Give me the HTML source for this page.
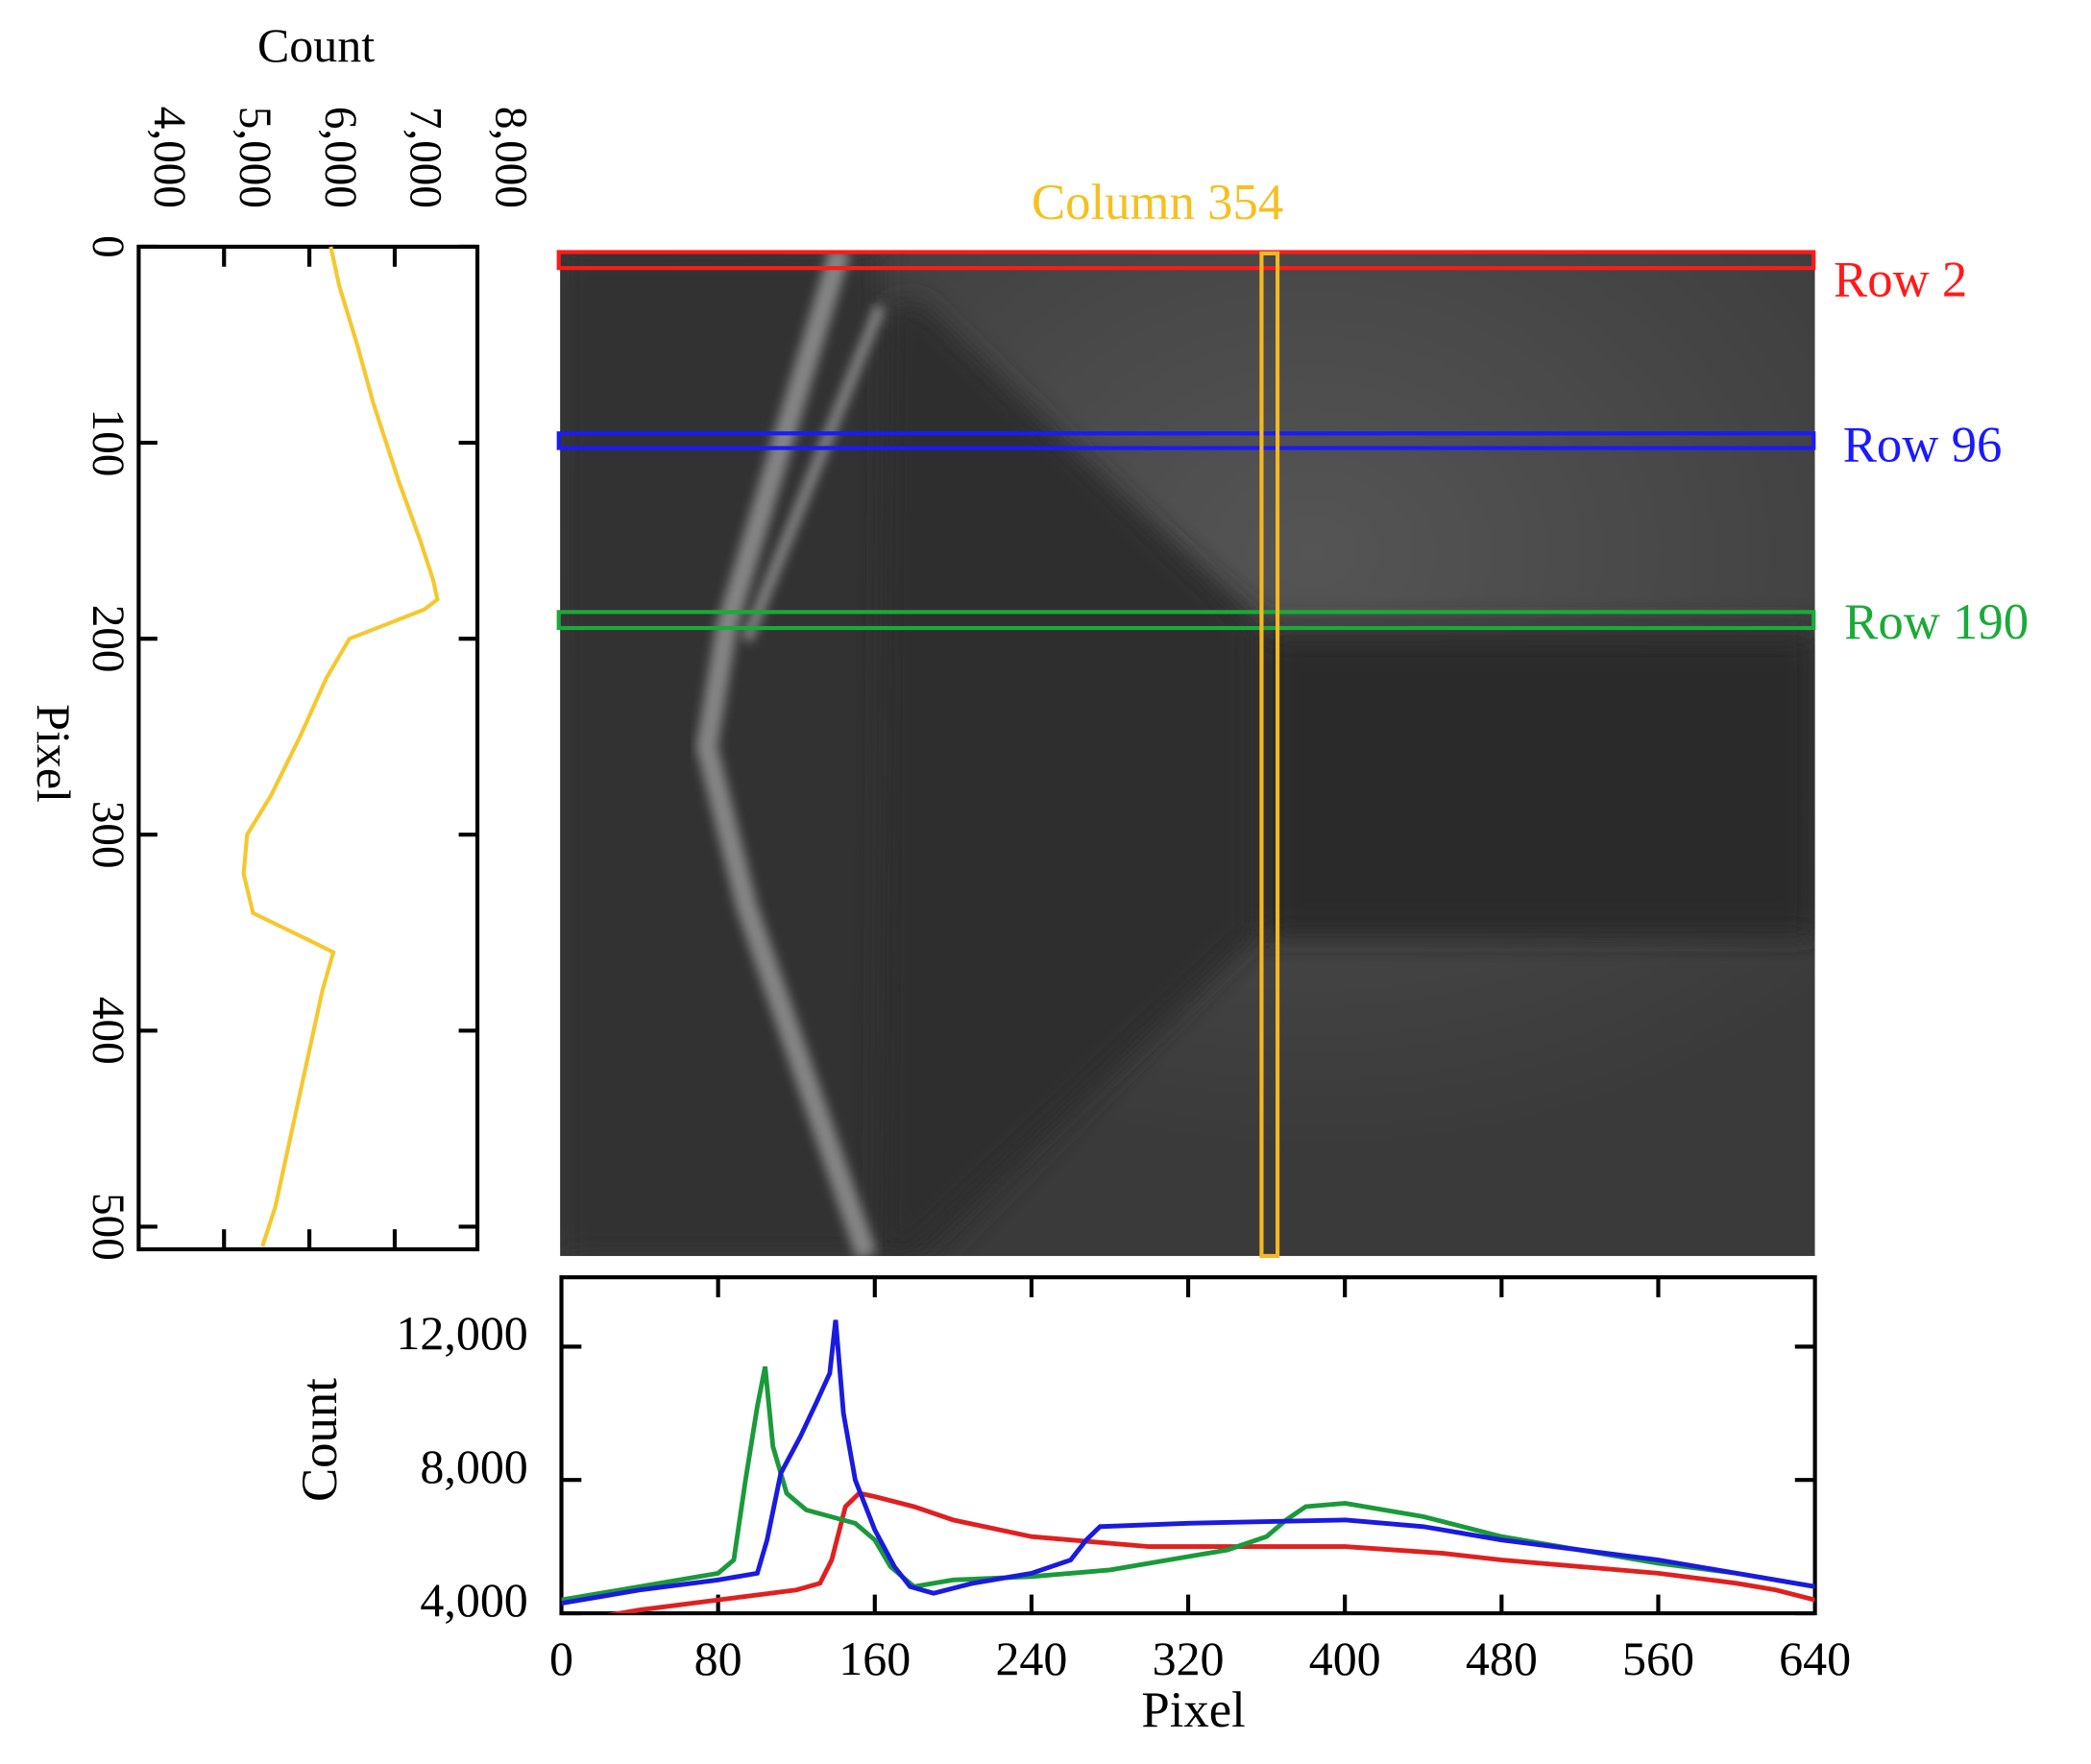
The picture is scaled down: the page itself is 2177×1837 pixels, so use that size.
<!DOCTYPE html>
<html><head><meta charset="utf-8"><style>
html,body{margin:0;padding:0;background:#fff;}
svg{display:block;font-family:"Liberation Serif",serif;}
</style></head><body>
<svg id="fig" width="2177" height="1837" viewBox="0 0 1568 1323" xmlns="http://www.w3.org/2000/svg">
<defs>
<filter id="blur" x="-20%" y="-20%" width="140%" height="140%"><feGaussianBlur stdDeviation="10"/></filter>
<filter id="blur2"><feGaussianBlur stdDeviation="4"/></filter>
<radialGradient id="glow" cx="0.6" cy="0.3" r="0.6"><stop offset="0" stop-color="#555"/><stop offset="1" stop-color="#3a3a3a"/></radialGradient>
<clipPath id="imgclip"><rect x="420" y="188" width="941" height="754"/></clipPath>
</defs>

<g clip-path="url(#imgclip)">
<rect x="420" y="188" width="941" height="754" fill="url(#glow)"/>
<polygon points="660,230 950,470 1361,470 1361,700 940,700 700,942 420,942 420,188 660,188" fill="#333" filter="url(#blur)"/>
<polygon points="950,480 1361,480 1361,700 950,700" fill="#2c2c2c" filter="url(#blur)"/>
<polygon points="665,228 690,225 940,470 940,700 680,942 660,942" fill="#2e2e2e" filter="url(#blur)"/>
<polyline points="630,188 545,470 530,560 560,680 650,942" fill="none" stroke="#858585" stroke-width="16" filter="url(#blur2)"/>
<polyline points="660,230 560,480" fill="none" stroke="#8a8a8a" stroke-width="8" filter="url(#blur2)"/>
</g>

<rect x="419" y="189" width="941" height="12" fill="none" stroke="#ff1a1a" stroke-width="3"/>
<rect x="419" y="325" width="941" height="11" fill="none" stroke="#1a1aff" stroke-width="3"/>
<rect x="419" y="459" width="941" height="12" fill="none" stroke="#1aaa3a" stroke-width="3"/>
<rect x="946" y="190" width="12" height="752" fill="none" stroke="#f5b820" stroke-width="3"/>
<text x="868" y="164" font-size="38" fill="#f5c020" text-anchor="middle">Column 354</text>
<text x="1375" y="222" font-size="38" fill="#ff1a1a">Row 2</text>
<text x="1382" y="346" font-size="38" fill="#1a1aff">Row 96</text>
<text x="1383" y="479" font-size="38" fill="#1aaa3a">Row 190</text>

<g id="left"></g>
<g id="bottom"></g>
</svg>
<script>
const colPixels = [0,20,50,80,100,120,150,170,180,185,190,200,220,250,280,300,320,340,355,360,380,400,430,460,490,510];
const colCounts = [6250,6350,6560,6750,6900,7050,7300,7450,7500,7350,7060,6470,6200,5890,5550,5270,5230,5340,6050,6280,6150,6050,5900,5750,5600,5450];
const colXTicks = [4000,5000,6000,7000,8000];
const colXTickLabels = ["4,000","5,000","6,000","7,000","8,000"];
const colYTicks = [0,100,200,300,400,500];
const rowXTicks = [0,80,160,240,320,400,480,560,640];
const rowYTicks = [4000,8000,12000];
const rowYTickLabels = ["4,000","8,000","12,000"];
const redPix = [0,20,40,80,120,132,138,145,152,160,180,200,240,300,350,400,450,480,520,560,600,620,640];
const redVal = [3700,3900,4100,4400,4700,4900,5600,7200,7600,7500,7200,6800,6300,6000,6000,6000,5800,5600,5400,5200,4900,4700,4400];
const bluePix = [0,40,80,100,105,112,122,130,137,140,144,150,160,170,178,190,210,240,260,268,275,320,360,400,440,480,520,560,600,640];
const blueVal = [4300,4700,5000,5200,6200,8200,9300,10300,11200,12800,10000,8000,6500,5400,4800,4600,4900,5200,5600,6200,6600,6700,6750,6800,6600,6200,5900,5600,5200,4800];
const greenPix = [0,40,80,88,94,100,104,108,115,125,150,160,168,180,200,240,280,320,340,360,370,380,400,440,480,520,560,600,640];
const greenVal = [4400,4800,5200,5600,8000,10200,11400,9000,7600,7100,6700,6200,5400,4800,5000,5100,5300,5700,5900,6300,6800,7200,7300,6900,6300,5900,5500,5200,4800];

const NS="http://www.w3.org/2000/svg";
function mk(parent,tag,attrs,text){const e=document.createElementNS(NS,tag);for(const k in attrs)e.setAttribute(k,attrs[k]);if(text!==undefined)e.textContent=text;parent.appendChild(e);return e;}

const L=document.getElementById('left');
const lx=v=>104+(v-4000)/4000*256;
const ly=p=>185+p/500*735;
let e;
e=mk(L,'rect',{x:104,y:185,width:254,height:752,fill:'none',stroke:'#000','stroke-width':3});


colXTicks.forEach((t,i)=>{
  const x=lx(t);
  if(i>0&&i<colXTicks.length-1){
    e=mk(L,'line',{x1:x,y1:185,x2:x,y2:200,stroke:'#000','stroke-width':3});
    
    
    e=mk(L,'line',{x1:x,y1:937,x2:x,y2:922,stroke:'#000','stroke-width':3});
    
    
  }
  e=mk(L,'text',{x:x+12,y:118,'font-size':34,'text-anchor':'middle',transform:`rotate(90 ${x+12} 118)`},colXTickLabels[i]);
  
  
});
colYTicks.forEach(t=>{
  const y=ly(t);
  e=mk(L,'line',{x1:104,y1:y,x2:118,y2:y,stroke:'#000','stroke-width':3});
  
  
  e=mk(L,'line',{x1:358,y1:y,x2:344,y2:y,stroke:'#000','stroke-width':3});
  
  
  e=mk(L,'text',{x:70,y:y,'font-size':34,'text-anchor':'middle',transform:`rotate(90 70 ${y})`},String(t));
  
  
});
e=mk(L,'text',{x:237,y:46,'font-size':36,'text-anchor':'middle'},'Count');


e=mk(L,'text',{x:28,y:565,'font-size':36,'text-anchor':'middle',transform:'rotate(90 28 565)'},'Pixel');


e=mk(L,'polyline',{points:colPixels.map((p,i)=>lx(colCounts[i])+','+ly(p)).join(' '),fill:'none',stroke:'#f5c830','stroke-width':3});



const B=document.getElementById('bottom');
const bx=p=>421+p/640*940;
const by=v=>1210-(v-4000)/4000*100;
e=mk(B,'rect',{x:421,y:958,width:940,height:252,fill:'none',stroke:'#000','stroke-width':3});


rowXTicks.forEach(t=>{
  const x=bx(t);
  if(t>0&&t<640){
    e=mk(B,'line',{x1:x,y1:958,x2:x,y2:973,stroke:'#000','stroke-width':3});
    
    
    e=mk(B,'line',{x1:x,y1:1210,x2:x,y2:1196,stroke:'#000','stroke-width':3});
    
    
  }
  e=mk(B,'text',{x:x,y:1256,'font-size':36,'text-anchor':'middle'},String(t));
  
  
});
rowYTicks.forEach((t,i)=>{
  const y=by(t);
  e=mk(B,'line',{x1:421,y1:y,x2:436,y2:y,stroke:'#000','stroke-width':3});
  
  
  e=mk(B,'line',{x1:1361,y1:y,x2:1346,y2:y,stroke:'#000','stroke-width':3});
  
  
  e=mk(B,'text',{x:396,y:y+2,'font-size':36,'text-anchor':'end'},rowYTickLabels[i]);
  
  
});
e=mk(B,'text',{x:895,y:1295,'font-size':38,'text-anchor':'middle'},'Pixel');


e=mk(B,'text',{x:252,y:1080,'font-size':38,'text-anchor':'middle',transform:'rotate(-90 252 1080)'},'Count');


const clip=mk(B,'clipPath',{id:'bclip'});mk(clip,'rect',{x:421,y:958,width:940,height:252});
function series(px,vals,col,name){
  const el=mk(B,'polyline',{points:px.map((p,i)=>bx(p)+','+by(vals[i])).join(' '),fill:'none',stroke:col,'stroke-width':3.5,'clip-path':'url(#bclip)'});
  
  
}
series(redPix,redVal,'#e02020','row-2-line');
series(greenPix,greenVal,'#1a9a3a','row-190-line');
series(bluePix,blueVal,'#1a1ae0','row-96-line');
</script>
</body></html>
